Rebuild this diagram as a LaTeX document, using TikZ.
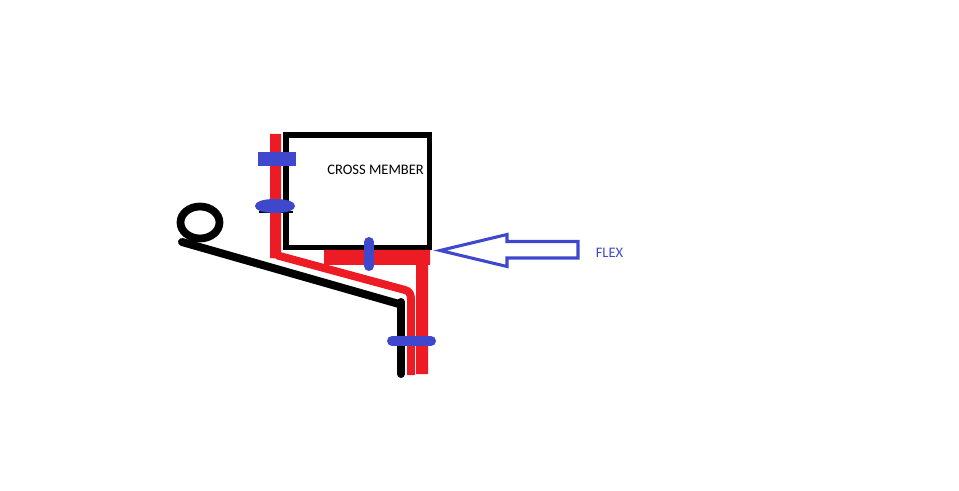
\documentclass[tikz,border=0pt]{standalone}
\usepackage{fontspec}
\setmainfont{Carlito}
\definecolor{pblue}{HTML}{3F48CC}
\definecolor{pred}{HTML}{ED1C24}
\tikzset{
  x=0.75pt,y=-0.75pt,
  boxline/.style={draw=black,line width=4.2pt,line join=miter},
  redthin/.style={draw=pred,line width=6pt,line join=round},
  redfill/.style={fill=pred,draw=none},
  blackline/.style={draw=black,line width=6pt,line cap=round,line join=round},
  clampfill/.style={fill=pblue,draw=none},
  clampline/.style={draw=pblue,line width=7.5pt,line cap=round},
  arrowline/.style={draw=pblue,line width=2.3pt,line join=miter},
  lbl/.style={inner sep=0pt,font=\fontsize{10.9pt}{13pt}\selectfont}
}
\begin{document}
\begin{tikzpicture}
\useasboundingbox (0,0) rectangle (959,491);
% cross member box
\draw[boxline] (285.8,134.8) rectangle (429.3,247.5);
% thick red bracket
\fill[redfill] (324,250) -- (430,250) -- (430,265) -- (428,265) -- (428,374) -- (416,374) -- (416,265) -- (324,265) -- cycle;
% thin red strap
\fill[redfill] (270,134) -- (281,134) -- (281,259) -- (270,258) -- cycle;
\draw[redthin] (277,255.3) -- (405,290) .. controls (409,291) and (411,294) .. (411,299) -- (411,375);
% black bracket and ring
\draw[blackline] (182,242) -- (399,304);
\draw[blackline] (401,302) -- (401,374);
\draw[draw=black,line width=5.8pt] (200,222.5) ellipse (19.5 and 16);
\draw[draw=black,line width=1.5pt] (259,212) -- (293,212);
% blue clamps
\fill[clampfill] (258,152) rectangle (296,166);
\fill[clampfill] (275,199) .. controls (262,199) and (255,202) .. (255,206) .. controls (255,210) and (262,213) .. (275,213) .. controls (288,213) and (295,210) .. (295,206) .. controls (295,202) and (288,199) .. (275,199) -- cycle;
\draw[clampline] (369,242) -- (369,266);
\draw[clampline] (392,341) -- (431,341);
% flex arrow
\draw[arrowline] (440,250.5) -- (507,234.5) -- (507,241.5) -- (578,241.5) -- (578,258) -- (507,258) -- (507,266.5) -- cycle;
% labels
\node[lbl,anchor=west,text=black] (cross) at (327,169.5) {CROSS MEMBER};
\node[lbl,anchor=west,text=pblue] (flex) at (595.5,253) {FLEX};
\end{tikzpicture}
\end{document}
